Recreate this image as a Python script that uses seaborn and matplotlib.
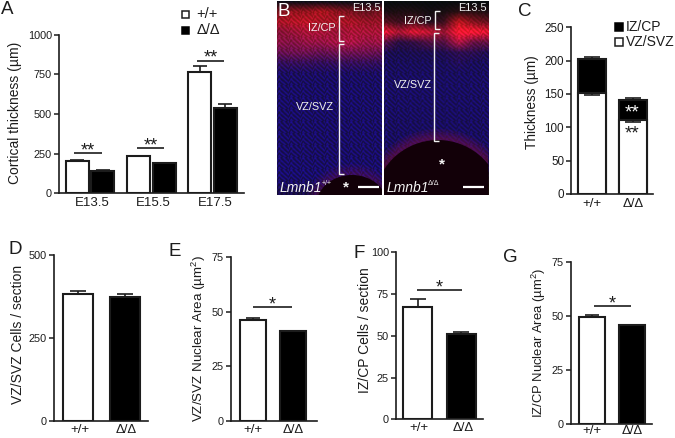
import matplotlib
matplotlib.use("Agg")
import matplotlib.pyplot as plt
from matplotlib.patches import Ellipse, Rectangle
import numpy as np
import seaborn as sns

sns.set_theme(style="ticks")
plt.rcParams["font.family"] = ["Liberation Sans", "DejaVu Sans"]
plt.rcParams["mathtext.fontset"] = "custom"
plt.rcParams["mathtext.rm"] = "Liberation Sans"

W, H = 675, 438
INK = "#1c1c1c"
WT, KO = "+/+", "Δ/Δ"

# ---- data ----
stages = ["E13.5", "E15.5", "E17.5"]
a_wt = [205, 235, 762]
a_ko = [143, 190, 538]
a_wt_err = [3, 3, 38]
a_ko_err = [5, 4, 22]

c_total = [203, 141]
c_total_err = [2.5, 3]
c_vz = [152, 111]
c_vz_err = [4, 3]

d_vals, d_err = [383, 372], [10, 10]
e_vals, e_err = [46, 41], [1.2, 0.2]
f_vals, f_err = [67.5, 51], [4.5, 1]
g_vals, g_err = [49.5, 45.7], [0.8, 0.3]

# Panel B colour samples, one row every 10 px from the top of each micrograph
b1_red = [[12, 12, 12, 12, 12, 12, 12, 12],
          [120, 150, 150, 175, 140, 120, 100, 120],
          [170, 180, 190, 165, 170, 170, 150, 150],
          [130, 150, 170, 170, 150, 170, 170, 170],
          [140, 130, 150, 150, 170, 175, 150, 160],
          [100, 110, 110, 100, 110, 110, 110, 100],
          [50, 55, 55, 50, 55, 55, 55, 50],
          [28, 28, 28, 28, 28, 28, 28, 28]]
b2_red = [[8, 8, 8, 8, 8, 8, 8, 8],
          [25, 30, 30, 20, 25, 40, 40, 30],
          [85, 60, 80, 30, 60, 190, 130, 100],
          [235, 170, 225, 200, 150, 255, 255, 230],
          [90, 40, 50, 80, 80, 180, 100, 100],
          [28, 25, 28, 28, 32, 45, 45, 30],
          [25, 25, 25, 25, 25, 35, 25, 25],
          [25, 25, 25, 25, 25, 25, 25, 25]]
b1_blue = [22, 30, 38, 55, 68, 80, 90, 98, 100, 102, 102, 102, 102, 102, 102,
           102, 104, 108, 95, 70]
b2_blue = [14, 18, 30, 50, 66, 80, 90, 95, 98, 98, 98, 98, 96, 96, 95,
           88, 62, 30, 10, 10]
# Mottling of the stained nuclei, brightness in percent, repeated over each micrograph
cell_tile = [[70, 105, 130, 95, 65, 90, 125, 110, 75, 60, 95, 120],
             [85, 125, 145, 110, 70, 80, 110, 130, 95, 70, 85, 115],
             [110, 95, 100, 125, 90, 65, 80, 120, 125, 90, 70, 85],
             [130, 75, 65, 110, 130, 95, 70, 85, 115, 130, 95, 70],
             [105, 65, 80, 95, 125, 135, 100, 70, 80, 110, 135, 95],
             [75, 95, 125, 85, 80, 110, 125, 95, 65, 80, 120, 130],
             [65, 120, 140, 105, 65, 75, 105, 130, 105, 70, 80, 100],
             [90, 110, 105, 130, 100, 70, 70, 100, 135, 110, 75, 70],
             [125, 80, 70, 100, 135, 110, 80, 75, 100, 130, 110, 80],
             [110, 70, 95, 70, 100, 130, 125, 90, 70, 85, 125, 120],
             [75, 100, 135, 90, 70, 85, 120, 130, 90, 65, 90, 125],
             [65, 115, 120, 120, 90, 70, 85, 115, 120, 85, 70, 95]]


def px_axes(l, r, top, bottom, ymax):
    ax = fig.add_axes([l / W, 1 - bottom / H, (r - l) / W, (bottom - top) / H])
    ax.set_ylim(0, ymax)
    return ax


def style(ax, yticks, tick_size, ylabel, lab_x, lab_y, lab_size=10, xpad=3):
    sns.despine(ax=ax)
    for s in ("left", "bottom"):
        ax.spines[s].set_linewidth(1.2)
        ax.spines[s].set_color(INK)
    ax.set_yticks(yticks)
    ax.tick_params(axis="y", length=3.5, width=1.1, pad=1.5, labelsize=tick_size,
                   color=INK, labelcolor=INK)
    ax.tick_params(axis="x", length=0, pad=xpad, labelsize=9.5, labelcolor=INK)
    ax.set_xlabel("")
    ax.set_ylabel(ylabel, fontsize=lab_size, color=INK, va="center")
    ax.yaxis.set_label_coords(lab_x / W, 1 - lab_y / H, transform=fig.transFigure)


def place_x(ax, c0, c1, l, r):
    unit = c1 - c0
    ax.set_xlim((l - c0) / unit, (r - c0) / unit)
    return unit


def two_bars(l, r, top, bottom, ymax, c0, c1, bw, vals, errs, yticks, tick_size,
             ylabel, lab_x, lab_y, lab_size=10, lab_shift=1.5, xpad=2):
    ax = px_axes(l, r, top, bottom, ymax)
    unit = c1 - c0
    sns.barplot(x=[WT, KO], y=vals, hue=[WT, KO], palette=["white", "black"],
                saturation=1, width=bw / unit, edgecolor=INK, linewidth=1.5,
                legend=False, errorbar=None, ax=ax)
    ax.errorbar([0, 1], vals, yerr=[[0, 0], errs], fmt="none", ecolor=INK,
                elinewidth=1.2, capsize=bw * 0.2, capthick=1.2)
    place_x(ax, c0, c1, l, r)
    ax.set_ylim(0, ymax)
    style(ax, yticks, tick_size, ylabel, lab_x, lab_y, lab_size, xpad)
    ax.set_xticks([lab_shift / unit, 1 + lab_shift / unit], [WT, KO])
    return ax


def micrograph(l, r, top, bottom, red_rows, blue_rows):
    ax = fig.add_axes([l / W, 1 - bottom / H, (r - l) / W, (bottom - top) / H])
    ncol = len(red_rows[0])
    nrow = len(blue_rows)
    red = np.full((nrow, ncol), 25.0)
    red[:len(red_rows)] = np.array(red_rows)
    blue = np.tile(np.array(blue_rows, float)[:, None], (1, ncol))
    h_px, w_px = int(bottom - top), int(r - l)
    yy = np.linspace(0, nrow - 1, h_px)
    xx = np.linspace(0, ncol - 1, w_px)

    def upsample(grid):
        rows = np.array([np.interp(xx, np.arange(ncol), row) for row in grid])
        return np.array([np.interp(yy, np.arange(nrow), col) for col in rows.T]).T

    red_px, blue_px = upsample(red), upsample(blue)
    tile = np.array(cell_tile) / 100
    mott = np.tile(tile, (h_px // tile.shape[0] + 1, w_px // tile.shape[1] + 1))[:h_px, :w_px]
    blue_px = blue_px * mott
    red_px = red_px * (0.55 + 0.45 * mott)
    green = 12 + red_px * 0.05
    img = np.clip(np.dstack([red_px, green, blue_px]) / 255, 0, 1)
    ax.imshow(img, aspect="auto", interpolation="bilinear")
    ax.set_axis_off()
    return ax


fig = plt.figure(figsize=(W / 100, H / 100), dpi=100, facecolor="white")

# ---- Panel A ----
axA = px_axes(59, 244, 34.7, 193.3, 1000)
unitA = 61.3
sns.barplot(x=stages * 2, y=a_wt + a_ko,
            hue=[WT] * 3 + [KO] * 3, palette=["white", "black"],
            saturation=1, width=0.84, gap=0.107, edgecolor=INK, linewidth=1.5,
            legend=False, errorbar=None, ax=axA)
axA.errorbar(np.arange(3) - 0.21, a_wt, yerr=[[0] * 3, a_wt_err], fmt="none",
             ecolor=INK, elinewidth=1.2, capsize=5, capthick=1.2)
axA.errorbar(np.arange(3) + 0.21, a_ko, yerr=[[0] * 3, a_ko_err], fmt="none",
             ecolor=INK, elinewidth=1.2, capsize=5, capthick=1.2)
place_x(axA, 89.9, 151.2, 59, 244)
axA.set_ylim(0, 1000)
style(axA, [0, 250, 500, 750, 1000], 7.8, "Cortical thickness (µm)", 15, 113)
axA.set_xticks(np.arange(3) + 2.5 / unitA, stages)

# ---- Panel C ----
axC = px_axes(571, 653, 27.3, 194, 250)
unitC = 41.2
for vals, colour in ((c_total, "black"), (c_vz, "white")):
    sns.barplot(x=[WT, KO], y=vals, color=colour, saturation=1, width=28 / unitC,
                edgecolor=INK, linewidth=1.5, errorbar=None, ax=axC)
axC.errorbar([0, 1], c_total, yerr=[[0, 0], c_total_err], fmt="none", ecolor=INK,
             elinewidth=1.2, capsize=6, capthick=1.2)
axC.errorbar([0, 1], c_vz, yerr=[c_vz_err, [0, 0]], fmt="none", ecolor=INK,
             elinewidth=1.2, capsize=6, capthick=1.2)
place_x(axC, 591.7, 632.9, 571, 653)
axC.set_ylim(0, 250)
style(axC, [0, 50, 100, 150, 200, 250], 8.4, "Thickness (µm)", 532, 102, lab_size=9.8)
axC.set_xticks([0, 1], [WT, KO])

# ---- Panels D to G ----
two_bars(54, 148, 255, 421, 500, 78.3, 125, 30, d_vals, d_err, [0, 250, 500], 7.8,
         "VZ/SVZ Cells / section", 18, 334)
two_bars(231, 317, 257, 421, 75, 252.8, 293, 25.7, e_vals, e_err, [0, 25, 50, 75], 7.8,
         "VZ/SVZ Nuclear Area (µm$^2$)", 199, 338, lab_size=9.6, lab_shift=0)
two_bars(396, 483, 252.3, 419.3, 100, 417.8, 461.3, 29, f_vals, f_err,
         [0, 25, 50, 75, 100], 7.8, "IZ/CP Cells / section", 365, 330)
two_bars(571, 652, 261.7, 424.3, 75, 592.2, 632.2, 25.7, g_vals, g_err, [0, 25, 50, 75],
         7.8, "IZ/CP Nuclear Area (µm$^2$)", 539, 343, lab_size=9.4, lab_shift=0, xpad=0.5)

# ---- Panel B micrographs ----
m1 = micrograph(277, 382, 1, 195, b1_red, b1_blue)
m2 = micrograph(384, 488, 1, 195, b2_red, b2_blue)

# ---- overlay in pixel coordinates ----
ov = fig.add_axes([0, 0, 1, 1], facecolor="none")
ov.set_xlim(0, W)
ov.set_ylim(H, 0)
ov.set_axis_off()


def clip_rect(l, r, top, bottom):
    return Rectangle((l, top), r - l, bottom - top, transform=ov.transData)


for (cx, cy, w, h, l, r, fringe) in ((352, 206, 72, 62, 277, 382, 0.07),
                                     (438, 204, 128, 128, 384, 488, 0.11)):
    shapes = [Ellipse((cx, cy), w + g, h + g, fc="#a01040", ec="none", alpha=fringe)
              for g in (22, 16, 11, 6)]
    shapes.append(Ellipse((cx, cy), w, h, fc="#120008", ec="none"))
    for p in shapes:
        ov.add_patch(p)
        p.set_clip_path(clip_rect(l, r, 1, 195))


def t(x, y, s, size=10, color=INK, ha="center", **kw):
    ov.text(x, y, s, fontsize=size, color=color, ha=ha, va="center", **kw)


def seg(xs, ys, lw=1.2, color=INK):
    ov.plot(xs, ys, color=color, lw=lw, solid_capstyle="butt", solid_joinstyle="miter")


# panel letters
for x, y, s in ((7, 10, "A"), (525, 12, "C"), (15, 250, "D"), (175, 251, "E"),
                (359, 254, "F"), (510, 258, "G")):
    t(x, y, s, 13.5)
t(284, 11, "B", 13.5, "white")

# legend of A
ov.add_patch(Rectangle((182, 10.5), 7, 7, fc="white", ec=INK, lw=1.1))
ov.add_patch(Rectangle((182, 27), 7, 6.5, fc="black", ec="black", lw=1.1))
t(196.5, 13.5, WT, 10.5, ha="left")
t(196.5, 30, KO, 10.5, ha="left")

# legend of C
ov.add_patch(Rectangle((614.5, 23), 8.5, 7.5, fc="black", ec="black", lw=1.1))
ov.add_patch(Rectangle((614.5, 38), 8.5, 7.5, fc="white", ec=INK, lw=1.1))
t(626, 27, "IZ/CP", 10, ha="left")
t(626, 42, "VZ/SVZ", 10, ha="left")

# significance marks
for x0, x1, y, s in ((74.3, 101.7, 153.3, "**"), (137, 164.3, 148.3, "**"),
                     (197.3, 224.3, 60.7, "**"), (252.7, 292.3, 307.3, "*"),
                     (417.3, 461.7, 290.3, "*"), (594, 630.7, 306.3, "*")):
    seg([x0, x1], [y, y])
    t((x0 + x1) / 2, y - 2.5, s, 13)
t(632.5, 113, "**", 13.5, "white")
t(632.5, 134, "**", 13.5)

# labels, brackets and scale bars of B
WHITE = "#f2f2f2"
t(381, 8, "E13.5", 7.8, WHITE, ha="right")
t(486.5, 8, "E13.5", 7.8, WHITE, ha="right")
t(322, 28, "IZ/CP", 7.8, WHITE)
t(315, 107, "VZ/SVZ", 7.8, WHITE)
t(418, 20.5, "IZ/CP", 7.8, WHITE)
t(413, 85, "VZ/SVZ", 7.8, WHITE)
t(280, 188, "Lmnb1", 10, WHITE, ha="left", style="italic")
t(322, 183.5, "+/+", 5, WHITE, ha="left")
t(387, 188, "Lmnb1", 10, WHITE, ha="left", style="italic")
t(428, 183.5, "Δ/Δ", 5, WHITE, ha="left")
t(346, 187, "*", 11, WHITE, weight="bold")
t(442, 164, "*", 11, WHITE, weight="bold")
for x, y0, y1 in ((338.5, 15.5, 41), (338.5, 43.5, 174), (434.7, 10.5, 29), (434.2, 33, 140.5)):
    seg([x + 5, x, x, x + 5], [y0, y0, y1, y1], lw=1.0, color=WHITE)
seg([358, 379], [186.7, 186.7], lw=1.6, color="white")
seg([463, 484], [186.7, 186.7], lw=1.6, color="white")

fig.savefig("out.png", dpi=100, facecolor="white")
